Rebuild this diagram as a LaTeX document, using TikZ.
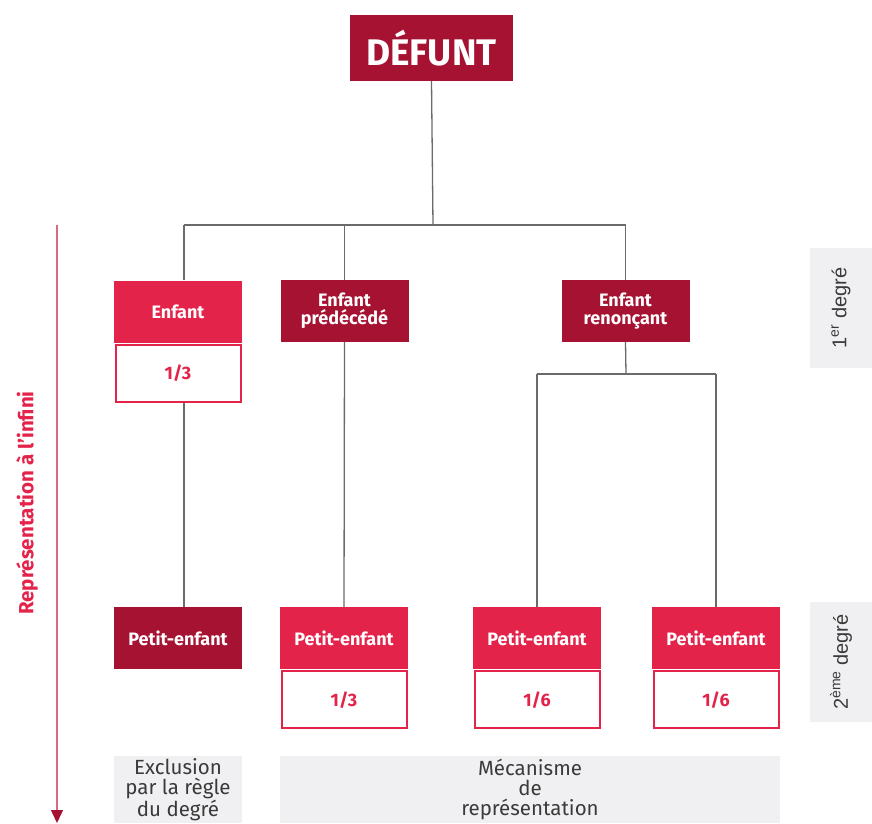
\documentclass[tikz,border=0pt]{standalone}
\usepackage{fontspec}
\setmainfont{Fira Sans}
\newfontfamily\labelfont{Liberation Sans}
\usetikzlibrary{arrows.meta,calc}

\definecolor{dred}{HTML}{A51232}
\definecolor{rpink}{HTML}{E4234B}
\definecolor{lgray}{HTML}{F0F0F2}
\definecolor{wire}{HTML}{6A6A6A}
\definecolor{axis}{HTML}{D66A80}
\definecolor{txtgray}{HTML}{3A3A3A}

\tikzset{
  heir/.style={minimum width=128pt, minimum height=62pt, inner sep=0pt,
    text=white, font=\bfseries\fontsize{18}{18}\selectfont, align=center},
  heirdark/.style={heir, fill=dred},
  heirpink/.style={heir, fill=rpink},
  share/.style={minimum width=125pt, minimum height=57pt, inner sep=0pt,
    draw=rpink, line width=2pt, fill=white, text=rpink,
    font=\bfseries\fontsize{18}{20}\selectfont, anchor=north},
  link/.style={draw=wire, line width=1.3pt},
  degbox/.style={fill=lgray, minimum width=62pt, minimum height=120pt, inner sep=0pt},
  degtext/.style={rotate=90, font=\labelfont\fontsize{20}{22}\selectfont, text=txtgray},
  notebox/.style={fill=lgray, minimum height=67pt, inner sep=0pt, anchor=north,
    align=center, text=txtgray, font=\fontsize{20.5}{20}\selectfont},
}

\begin{document}
\begin{tikzpicture}[x=1pt,y=-1pt]
\useasboundingbox (0,0) rectangle (872,823);

% deceased
\node[fill=dred, minimum width=163pt, minimum height=66pt, inner sep=0pt,
  text=white, font=\bfseries\fontsize{37}{38}\selectfont] (defunt) at (431.5,48) {DÉFUNT};

% first degree
\node[heirpink] (e1) at (178,311.5) {Enfant};
\node[share] (e1s) at ([yshift=-1pt]e1.south) {1/3};
\node[heirdark] (e2) at (344.5,311) {Enfant\\prédécédé};
\node[heirdark] (e3) at (625.5,311) {Enfant\\renonçant};

% second degree
\node[heirdark] (p1) at (178,638) {Petit-enfant};
\node[heirpink] (p2) at (344,638) {Petit-enfant};
\node[share] (p2s) at ([yshift=-1pt]p2.south) {1/3};
\node[heirpink] (p3) at (537,638) {Petit-enfant};
\node[share] (p3s) at ([yshift=-1pt]p3.south) {1/6};
\node[heirpink] (p4) at (716,638) {Petit-enfant};
\node[share] (p4s) at ([yshift=-1pt]p4.south) {1/6};

% junctions
\coordinate (j1) at (433,225);
\coordinate (j2) at (626,374);

% connectors
\draw[link] (defunt.south) -- (j1);
\draw[link] ([xshift=6pt]e1.north |- j1) -- (e3.north |- j1);
\draw[link] ([xshift=6pt]e1.north |- j1) -- ([xshift=6pt]e1.north);
\draw[link] (e2.north |- j1) -- (e2.north);
\draw[link] (e3.north |- j1) -- (e3.north);
\draw[link] ([xshift=6pt]e1s.south) -- ([xshift=6pt]p1.north);
\draw[link] (e2.south) -- (p2.north);
\draw[link] (e3.south) -- (j2);
\draw[link] (p3.north |- j2) -- (p4.north |- j2);
\draw[link] (p3.north |- j2) -- (p3.north);
\draw[link] (p4.north |- j2) -- (p4.north);

% degree labels
\node[degbox] (d1) at (841,308) {};
\node[degtext] at (d1) {1\textsuperscript{er} degré};
\node[degbox] (d2) at (841,662) {};
\node[degtext] at (d2) {2\textsuperscript{ème} degré};

% representation axis
\coordinate (atop) at (57,225);
\coordinate (abot) at (57,823);
\draw[draw=axis, line width=1.5pt,
  -{Triangle[width=12pt,length=13pt,color=dred]}] (atop) -- (abot);
\node[rotate=90, text=rpink, font=\bfseries\fontsize{20.5}{22}\selectfont] (axl) at (27,503)
  {Représentation à l’infini};

% notes under the columns
\node[notebox, minimum width=128pt] (n1) at (178,756) {Exclusion\\par la règle\\du degré};
\node[notebox, minimum width=500pt] (n2) at (530,756) {Mécanisme\\de\\représentation};
\end{tikzpicture}
\end{document}
